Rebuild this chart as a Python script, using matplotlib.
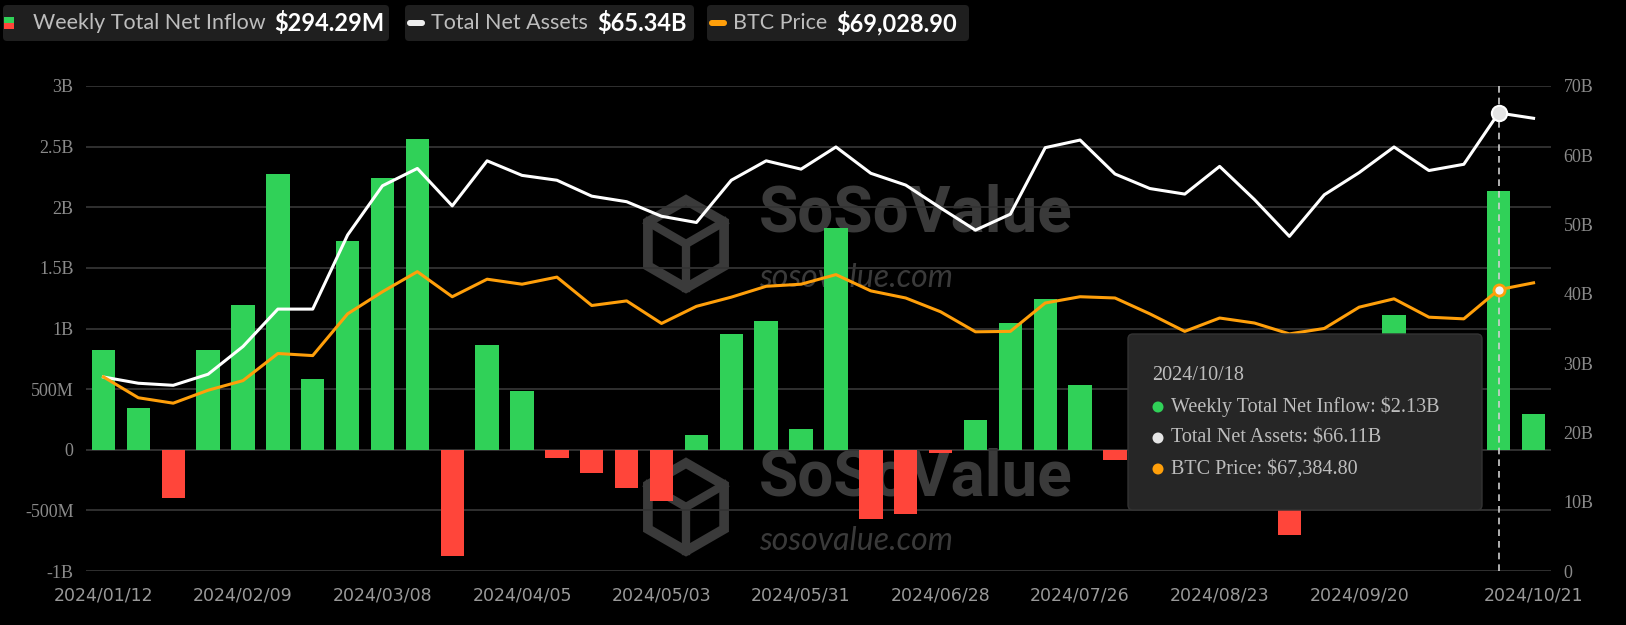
import numpy as np
import matplotlib
matplotlib.use("Agg")
import matplotlib.pyplot as plt
from matplotlib.patches import FancyBboxPatch, RegularPolygon, Rectangle, Circle
from matplotlib.transforms import IdentityTransform
from matplotlib.lines import Line2D

# weekly data, 2024/01/12 .. 2024/10/21
inflow_b = [0.82, 0.347, -0.396, 0.82, 1.194, 2.273, 0.585, 1.724, 2.24, 2.566,
            -0.874, 0.861, 0.484, -0.071, -0.194, -0.317, -0.423, 0.12, 0.951, 1.063,
            0.175, 1.828, -0.571, -0.533, -0.027, 0.243, 1.049, 1.243, 0.536, -0.081,
            -0.169, 0.033, 0.506, -0.277, -0.706, 0.403, 0.397, 1.111, -0.302, 0.348,
            2.13, 0.294]
net_assets_b = [28.0, 27.1, 26.8, 28.4, 32.4, 37.8, 37.8, 48.5, 55.6, 58.1,
                52.7, 59.2, 57.1, 56.4, 54.1, 53.3, 51.2, 50.3, 56.4, 59.2,
                58.0, 61.2, 57.4, 55.7, 52.4, 49.2, 51.5, 61.1, 62.2, 57.3,
                55.2, 54.4, 58.4, 53.6, 48.3, 54.3, 57.5, 61.2, 57.8, 58.7,
                66.11, 65.34]
btc_price = [46500, 41500, 40200, 43300, 45600, 52100, 51600, 61600, 66900, 71700,
             65700, 69900, 68700, 70400, 63600, 64700, 59300, 63400, 65600, 68200,
             68700, 71000, 67100, 65400, 62100, 57300, 57400, 64200, 65700, 65400,
             61600, 57400, 60600, 59400, 56800, 58100, 63200, 65200, 60800, 60400,
             67384.8, 69028.9]
tick_idx = [0, 4, 8, 12, 16, 20, 24, 28, 32, 36, 41]
tick_labels = ["2024/01/12", "2024/02/09", "2024/03/08", "2024/04/05", "2024/05/03",
               "2024/05/31", "2024/06/28", "2024/07/26", "2024/08/23", "2024/09/20",
               "2024/10/21"]
left_ticks = [-1, -0.5, 0, 0.5, 1, 1.5, 2, 2.5, 3]
left_labels = ["-1B", "-500M", "0", "500M", "1B", "1.5B", "2B", "2.5B", "3B"]
right_ticks = [0, 10, 20, 30, 40, 50, 60, 70]
right_labels = ["0", "10B", "20B", "30B", "40B", "50B", "60B", "70B"]
hover = 40

GREEN = "#30d158"
RED = "#ff453a"
ORANGE = "#ff9f0a"
WM = "#3a3a3a"
H = 625

fig = plt.figure(figsize=(16.26, 6.25), dpi=100, facecolor="black")
px = IdentityTransform()

# watermarks (behind the chart)
for cy in (244, 507):
    hexa = RegularPolygon((686, H - cy), 6, radius=44, orientation=0,
                          facecolor="none", edgecolor=WM, lw=7, transform=px, zorder=-2)
    fig.patches.append(hexa)
    for dx, dy in [(0, 0), (-38, 22), (38, 22)]:
        fig.lines.append(Line2D([686, 686 + dx], [H - cy, H - cy + dy if dx else H - cy - 44],
                                color=WM, lw=6, transform=px, zorder=-2))
    fig.text(759, H - cy + 12, "SoSoValue", fontsize=46, fontweight="bold", family="Roboto",
             color=WM, transform=px, va="baseline", zorder=-2)
    fig.text(759, H - cy - 43, "sosovalue.com", fontsize=23, family="Lato", style="italic",
             color=WM, transform=px, va="baseline", zorder=-2)

ax = fig.add_axes([86 / 1626, 1 - 571 / H, 1465 / 1626, 485 / H])
ax.set_facecolor("none")
x = np.arange(len(inflow_b))
colors = [GREEN if v >= 0 else RED for v in inflow_b]
ax.bar(x, inflow_b, width=0.67, color=colors, zorder=2)
ax.set_xlim(-0.5, len(x) - 0.5)
ax.set_ylim(-1, 3)
ax.set_yticks(left_ticks)
ax.set_yticklabels(left_labels, family="Liberation Serif", fontsize=13, color="#8a8a8a")
ax.set_xticks(tick_idx)
ax.set_xticklabels(tick_labels, family="DejaVu Sans", fontsize=12.5, color="#999999")
ax.tick_params(length=0, axis="y", pad=9)
ax.tick_params(length=0, axis="x", pad=11)
ax.grid(axis="y", color="#333333", lw=1.3, zorder=0)
for s in ax.spines.values():
    s.set_visible(False)
ax.axvline(hover, color="#cfcfcf", lw=1.2, ls=(0, (4, 3)), zorder=3)

ax2 = ax.twinx()
ax2.set_ylim(0, 70)
ax2.set_yticks(right_ticks)
ax2.set_yticklabels(right_labels, family="Liberation Serif", fontsize=13, color="#8a8a8a")
ax2.tick_params(length=0, pad=9)
for s in ax2.spines.values():
    s.set_visible(False)
ax2.plot(x, net_assets_b, color="white", lw=2.2, zorder=4)
ax2.plot(hover, net_assets_b[hover], "o", ms=11, mfc="#e4e4e4", mec="white", mew=1.5, zorder=5)

ax3 = ax.twinx()
ax3.set_ylim(0, 116180)
ax3.axis("off")
ax3.plot(x, btc_price, color=ORANGE, lw=2.2, zorder=4)
ax3.plot(hover, btc_price[hover], "o", ms=8, mfc="#f4f4f4", mec=ORANGE, mew=2, zorder=5)

# header legend boxes
boxes = [(0, 392), (402, 697), (704, 972)]
for x0, x1 in boxes:
    fig.patches.append(FancyBboxPatch((x0 + 3, H - 41), x1 - x0 - 6, 36,
                                      boxstyle="round,pad=0,rounding_size=4",
                                      facecolor="#1f1f1f", edgecolor="none", transform=px))
fig.patches.append(Rectangle((4, H - 23), 10, 6, facecolor=GREEN, transform=px))
fig.patches.append(Rectangle((4, H - 29), 10, 6, facecolor=RED, transform=px))
for x0, c in [(407, "#eeeeee"), (709, ORANGE)]:
    fig.patches.append(FancyBboxPatch((x0, H - 26), 18, 6,
                                      boxstyle="round,pad=0,rounding_size=3",
                                      facecolor=c, edgecolor="none", transform=px))
hy = H - 23
for xx, s, w, c, fs in [(33, "Weekly Total Net Inflow", "normal", "#bdbdbd", 15.5),
                        (274, "$294.29M", "bold", "white", 17),
                        (431, "Total Net Assets", "normal", "#bdbdbd", 15.5),
                        (597, "$65.34B", "bold", "white", 17),
                        (733, "BTC Price", "normal", "#bdbdbd", 15.5),
                        (836, "$69,028.90", "bold", "white", 17)]:
    fig.text(xx, hy, s, fontsize=fs, family="Lato", fontweight=w, color=c,
             va="center", transform=px)

# tooltip
fig.patches.append(FancyBboxPatch((1128, H - 510), 354, 176,
                                  boxstyle="round,pad=0,rounding_size=5",
                                  facecolor="#262626", edgecolor="#333333", lw=1,
                                  transform=px, zorder=10))
fig.text(1152, H - 375, "2024/10/18", fontsize=14.5, family="Liberation Serif",
         color="#bdbdbd", va="center", transform=px, zorder=11)
tip_rows = [(407, GREEN, "Weekly Total Net Inflow: $2.13B"),
            (438, "#e6e6e6", "Total Net Assets: $66.11B"),
            (469, ORANGE, "BTC Price: $67,384.80")]
for yy, c, s in tip_rows:
    fig.patches.append(Circle((1158, H - yy), 5.5, facecolor=c, transform=px, zorder=11))
    fig.text(1171, H - yy, s, fontsize=14.5, family="Liberation Serif",
             color="#bdbdbd", va="center", transform=px, zorder=11)

fig.savefig("out.png", dpi=100, facecolor="black")
